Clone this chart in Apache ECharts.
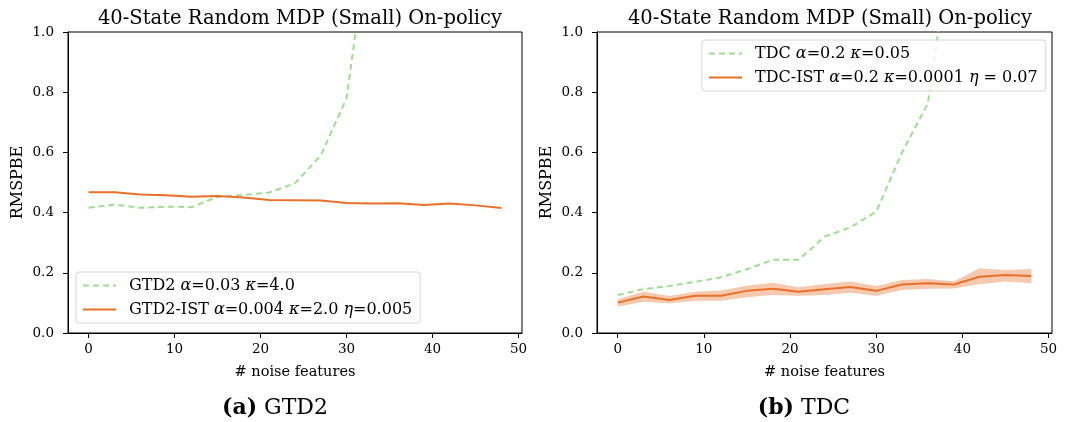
<!DOCTYPE html>
<html>
<head>
<meta charset="utf-8">
<script src="https://cdn.jsdelivr.net/npm/echarts@6/dist/echarts.min.js"></script>
<style>
html,body{margin:0;padding:0;background:#fff;}
#chart{width:1068px;height:422px;}
</style>
</head>
<body>
<div id="chart"></div>
<script>
// ---- data ----
var noiseFeatures = [0, 3, 6, 9, 12, 15, 18, 21, 24, 27, 30, 33, 36, 39, 42, 45, 48];
var xTicks = [0, 10, 20, 30, 40, 50];
var yTicks = [0, 0.2, 0.4, 0.6, 0.8, 1.0];

// (a) GTD2
var gtd2 = [0.416, 0.427, 0.416, 0.420, 0.418, 0.453, 0.458, 0.467, 0.497, 0.590, 0.780, 1.41, 2.2, 3.0, 3.8, 4.6, 5.4];
var gtd2Ist = [0.468, 0.468, 0.460, 0.458, 0.453, 0.455, 0.450, 0.442, 0.441, 0.440, 0.432, 0.430, 0.431, 0.425, 0.430, 0.424, 0.415];

// (b) TDC
var tdc = [0.126, 0.146, 0.156, 0.170, 0.185, 0.212, 0.243, 0.243, 0.320, 0.351, 0.403, 0.600, 0.763, 1.36, 2.0, 2.8, 3.6];
var tdcIst = [0.101, 0.121, 0.110, 0.124, 0.124, 0.140, 0.147, 0.137, 0.145, 0.153, 0.140, 0.161, 0.165, 0.161, 0.187, 0.193, 0.189];
var tdcIstUpper = [0.112, 0.137, 0.123, 0.137, 0.141, 0.157, 0.167, 0.152, 0.163, 0.171, 0.156, 0.176, 0.179, 0.172, 0.215, 0.209, 0.213];
var tdcIstLower = [0.087, 0.104, 0.099, 0.107, 0.107, 0.119, 0.126, 0.124, 0.126, 0.134, 0.124, 0.143, 0.147, 0.148, 0.162, 0.171, 0.165];

var chartTitle = '40-State Random MDP (Small) On-policy';
var xName = '# noise features';
var yName = 'RMSPBE';
var nameGTD2 = 'GTD2 α=0.03 κ=4.0';
var nameGTD2IST = 'GTD2-IST α=0.004 κ=2.0 η=0.005';
var nameTDC = 'TDC α=0.2 κ=0.05';
var nameTDCIST = 'TDC-IST α=0.2 κ=0.0001 η = 0.07';

// ---- styles ----
var SERIF = '"DejaVu Serif", serif';
var GREEN = '#a3da98';
var ORANGE = '#e8702a';
var BAND = 'rgba(240,150,95,0.5)';

function pairs(xs, ys) { return xs.map(function (x, i) { return [x, ys[i]]; }); }

function legendRich(name) {
  return name.replace(/([ακη])/g, '{i|$1}');
}

function xAxisCfg(gi) {
  return {
    gridIndex: gi, type: 'value', min: -2.4, max: 50.4,
    name: xName, nameLocation: 'middle', nameGap: 32,
    nameTextStyle: { fontFamily: SERIF, fontSize: 14.5, color: '#000' },
    axisLine: { show: true, onZero: false, lineStyle: { color: '#000', width: 1 } },
    axisTick: { show: true, inside: false, length: 5, customValues: xTicks, lineStyle: { color: '#000' } },
    axisLabel: { customValues: xTicks, margin: 9, fontFamily: SERIF, fontSize: 13.5, color: '#000' },
    splitLine: { show: false }
  };
}
function yAxisCfg(gi) {
  return {
    gridIndex: gi, type: 'value', min: 0, max: 1, interval: 0.2,
    name: yName, nameLocation: 'middle', nameGap: 42, nameRotate: 90,
    nameTextStyle: { fontFamily: SERIF, fontSize: 16, color: '#000' },
    axisLine: { show: true, onZero: false, lineStyle: { color: '#000', width: 1 } },
    axisTick: { show: true, inside: false, length: 5, lineStyle: { color: '#000' } },
    axisLabel: { margin: 14, fontFamily: SERIF, fontSize: 13.5, color: '#000',
      formatter: function (v) { return v.toFixed(1); } },
    splitLine: { show: false }
  };
}

var legendText = {
  fontFamily: SERIF, fontSize: 16, color: '#000', lineHeight: 19, padding: [0, 0, 0, 8],
  rich: { i: { fontFamily: SERIF, fontStyle: 'italic', fontSize: 16, lineHeight: 19, color: '#000' } }
};

function legendCfg(names, left, top) {
  return {
    data: names,
    orient: 'vertical', left: left, top: top,
    itemWidth: 33, itemHeight: 14, itemGap: 5, padding: [4, 8, 4, 6],
    itemStyle: { opacity: 0 },
    backgroundColor: 'rgba(255,255,255,0.8)', borderColor: '#d5d5d5', borderWidth: 1, borderRadius: 3,
    formatter: legendRich, textStyle: legendText
  };
}

var captionStyle = {
  fontFamily: SERIF, fontSize: 22, fontWeight: 'normal', color: '#000',
  rich: { b: { fontFamily: SERIF, fontSize: 22, fontWeight: 'bold', color: '#000' } }
};

var option = {
  backgroundColor: '#fff',
  animation: false,
  title: [
    { text: chartTitle, left: 295, top: 4, textAlign: 'center',
      textStyle: { fontFamily: SERIF, fontSize: 19.5, fontWeight: 'normal', color: '#000' } },
    { text: chartTitle, left: 825, top: 4, textAlign: 'center',
      textStyle: { fontFamily: SERIF, fontSize: 19.5, fontWeight: 'normal', color: '#000' } },
    { text: '{b|(a)} GTD2', left: 270, top: 392, textAlign: 'center', textStyle: captionStyle },
    { text: '{b|(b)} TDC', left: 799, top: 392, textAlign: 'center', textStyle: captionStyle }
  ],
  grid: [
    { left: 68, top: 32, width: 454, height: 301, show: true, borderColor: '#000', borderWidth: 1, backgroundColor: 'transparent' },
    { left: 597, top: 32, width: 455, height: 301, show: true, borderColor: '#000', borderWidth: 1, backgroundColor: 'transparent' }
  ],
  xAxis: [xAxisCfg(0), xAxisCfg(1)],
  yAxis: [yAxisCfg(0), yAxisCfg(1)],
  legend: [
    legendCfg([nameGTD2, nameGTD2IST], 76, 272),
    legendCfg([nameTDC, nameTDCIST], 702, 40)
  ],
  series: [
    { name: nameGTD2, type: 'line', xAxisIndex: 0, yAxisIndex: 0, data: pairs(noiseFeatures, gtd2),
      showSymbol: false, symbol: 'none', clip: true, color: GREEN,
      lineStyle: { color: GREEN, width: 2, type: [6, 4] }, z: 3 },
    { name: nameGTD2IST, type: 'line', xAxisIndex: 0, yAxisIndex: 0, data: pairs(noiseFeatures, gtd2Ist),
      showSymbol: false, symbol: 'none', clip: true, color: ORANGE,
      lineStyle: { color: ORANGE, width: 2 }, z: 4 },
    { name: 'tdcIstBand', type: 'custom', xAxisIndex: 1, yAxisIndex: 1, silent: true, z: 1,
      data: [[noiseFeatures[0], tdcIst[0]]],
      renderItem: function (params, api) {
        var pts = [];
        for (var i = 0; i < noiseFeatures.length; i++) pts.push(api.coord([noiseFeatures[i], tdcIstUpper[i]]));
        for (var j = noiseFeatures.length - 1; j >= 0; j--) pts.push(api.coord([noiseFeatures[j], tdcIstLower[j]]));
        return { type: 'polygon', shape: { points: pts }, style: { fill: BAND, stroke: null } };
      } },
    { name: nameTDC, type: 'line', xAxisIndex: 1, yAxisIndex: 1, data: pairs(noiseFeatures, tdc),
      showSymbol: false, symbol: 'none', clip: true, color: GREEN,
      lineStyle: { color: GREEN, width: 2, type: [6, 4] }, z: 3 },
    { name: nameTDCIST, type: 'line', xAxisIndex: 1, yAxisIndex: 1, data: pairs(noiseFeatures, tdcIst),
      showSymbol: false, symbol: 'none', clip: true, color: ORANGE,
      lineStyle: { color: ORANGE, width: 2 }, z: 4 }
  ]
};

var chart = echarts.init(document.getElementById('chart'), null, { renderer: 'canvas' });
chart.setOption(option);
</script>
</body>
</html>
